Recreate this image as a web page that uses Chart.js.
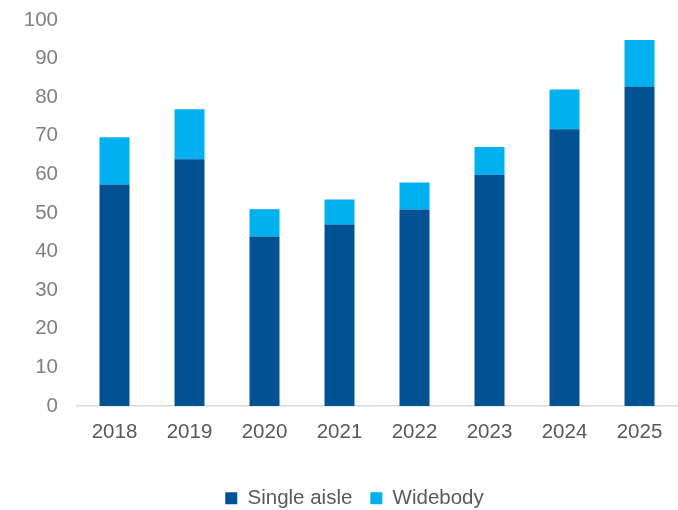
<!DOCTYPE html>
<html>
<head>
<meta charset="utf-8">
<script src="https://cdn.jsdelivr.net/npm/chart.js@4"></script>
<style>
  html, body { margin: 0; padding: 0; background: #fff; }
  canvas { display: block; }
</style>
</head>
<body>
<canvas id="chart" width="678" height="510"></canvas>
<script>
/* ── data ── */
const years       = ['2018', '2019', '2020', '2021', '2022', '2023', '2024', '2025'];
const singleAisle = [57.4, 63.9, 43.9, 47.0, 50.9, 59.9, 71.7, 82.8];
const widebody    = [12.2, 13.0, 7.1, 6.5, 7.0, 7.2, 10.3, 12.0];
const yTicks      = [0, 10, 20, 30, 40, 50, 60, 70, 80, 90, 100];

const FONT = "'Liberation Sans', Arial, sans-serif";

// legend sits a bit right of the canvas centre
const legendShift = {
  id: 'legendShift',
  afterLayout(chart) {
    const lg = chart.legend;
    if (!lg) return;
    lg.left += 16;
    lg.right += 16;
  }
};

new Chart(document.getElementById('chart'), {
  type: 'bar',
  data: {
    labels: years,
    datasets: [
      { label: 'Single aisle', data: singleAisle, backgroundColor: '#005293' },
      { label: 'Widebody',     data: widebody,    backgroundColor: '#00b0f0' }
    ]
  },
  options: {
    responsive: false,
    animation: false,
    barPercentage: 0.4,
    categoryPercentage: 1,
    layout: { padding: { top: 0, left: 0, right: 1, bottom: 0 } },
    plugins: {
      tooltip: { enabled: false },
      legend: {
        position: 'bottom',
        maxHeight: 40,
        labels: {
          boxWidth: 12, boxHeight: 12, padding: 18,
          color: '#595959',
          font: { family: FONT, size: 20.5 }
        }
      }
    },
    scales: {
      x: {
        stacked: true,
        grid: { display: false, drawTicks: false },
        border: { display: true, color: '#d9d9d9', width: 1.5 },
        ticks: { color: '#595959', padding: 14, font: { family: FONT, size: 20.5 } },
        afterFit: s => { s.height = 64; }
      },
      y: {
        stacked: true,
        min: 0, max: 100,
        grid: { display: false, drawTicks: false },
        border: { display: false },
        afterBuildTicks: s => { s.ticks = yTicks.map(v => ({ value: v })); },
        ticks: { color: '#7f7f7f', padding: 19, font: { family: FONT, size: 20.5 } },
        afterFit: s => {
          s.width = 77;
          s.paddingTop = 20;
          s.paddingBottom = 12;
        }
      }
    }
  },
  plugins: [legendShift]
});
</script>
</body>
</html>
